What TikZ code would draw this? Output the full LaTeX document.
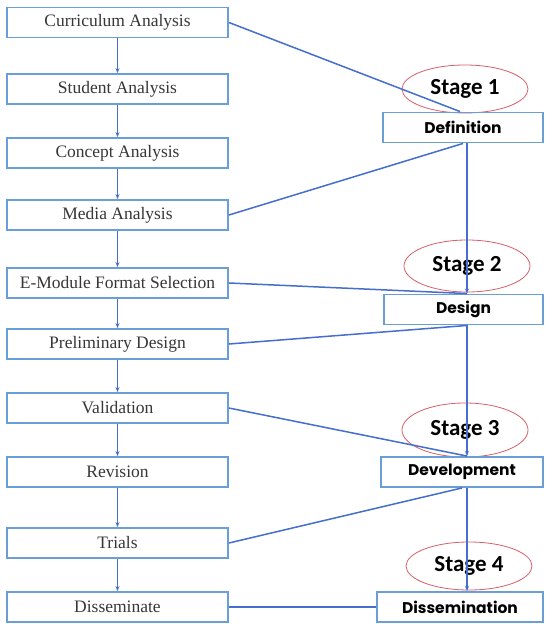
\documentclass[tikz,border=0pt]{standalone}
\usepackage{fontspec}
\setmainfont{Liberation Serif}
\newfontfamily\stagefont{Carlito}
\newfontfamily\gothfont{Poppins}
\usetikzlibrary{shapes.geometric,arrows.meta,calc}
\definecolor{boxblue}{RGB}{105,158,215}
\definecolor{linkblue}{RGB}{70,110,205}
\definecolor{ellred}{RGB}{215,95,105}
\definecolor{txtgrey}{RGB}{55,55,55}
\begin{document}
\begin{tikzpicture}[x=1pt,y=-1pt,
 leftbox/.style={draw=boxblue, line width=1.9pt, minimum width=221pt, minimum height=30pt, inner sep=0pt, font=\fontsize{17.5}{19}\selectfont, text=txtgrey},
 rightbox/.style={draw=boxblue, line width=1.9pt, minimum height=30pt, inner sep=0pt, font=\gothfont\bfseries\fontsize{15.5}{17}\selectfont},
 stage/.style={ellipse, draw=ellred, line width=0.8pt, minimum width=126pt, minimum height=48pt, inner sep=0pt, font=\stagefont\bfseries\fontsize{23}{25}\selectfont},
 conn/.style={draw=linkblue, line width=1.5pt},
 flow/.style={conn, -{Stealth[length=5pt,width=4pt]}}]
\fill[white] (0,0) rectangle (546,624);
\useasboundingbox (0,0) rectangle (546,624);
% left column
\node[leftbox] (cur) at (117.5,22.5) {Curriculum Analysis};
\node[leftbox] (stu) at (117.5,89) {Student Analysis};
\node[leftbox] (con) at (117.5,153) {Concept Analysis};
\node[leftbox] (med) at (117.5,215) {Media Analysis};
\node[leftbox] (emf) at (117.5,283) {E-Module Format Selection};
\node[leftbox] (pre) at (117.5,344) {Preliminary Design};
\node[leftbox] (val) at (117.5,408) {Validation};
\node[leftbox] (rev) at (117.5,472) {Revision};
\node[leftbox] (tri) at (117.5,543) {Trials};
\node[leftbox] (dis) at (117.5,607) {Disseminate};
% stage ellipses
\node[stage] (s1) at (465,89) {Stage 1};
\node[stage, minimum height=52pt] (s2) at (467,266) {Stage 2};
\node[stage, minimum height=54pt] (s3) at (465,430) {Stage 3};
\node[stage] (s4) at (469,566) {Stage 4};
% right column
\node[rightbox, minimum width=160pt] (def) at (463,127.5) {Definition};
\node[rightbox, minimum width=159pt] (des) at (463.5,309.5) {Design};
\node[rightbox, minimum width=162pt] (dev) at (462,472) {Development};
\node[rightbox, minimum width=166pt] (dsm) at (460,607) {Dissemination};
\coordinate (vx) at (467,0);
% left arrows
\foreach \a/\b in {cur/stu,stu/con,con/med,med/emf,emf/pre,pre/val,val/rev,rev/tri,tri/dis}
  \draw[flow] (\a.south) -- (\b.north);
% right vertical
\draw[flow] (def.south -| vx) -- (des.north -| vx);
\draw[flow] (des.south -| vx) -- (dev.north -| vx);
\draw[flow] (dev.south -| vx) -- (dsm.north -| vx);
% links
\draw[conn] (cur.east) -- ([xshift=-3pt]def.north);
\draw[conn] (med.east) -- (def.south);
\draw[conn] (emf.east) -- (des.north -| vx);
\draw[conn] (pre.east) -- (des.south -| vx);
\draw[conn] (val.east) -- (dev.north -| vx);
\draw[conn] (tri.east) -- ([xshift=-5pt]dev.south -| vx);
\draw[conn] (dis.east) -- (dsm.west);
\end{tikzpicture}
\end{document}
